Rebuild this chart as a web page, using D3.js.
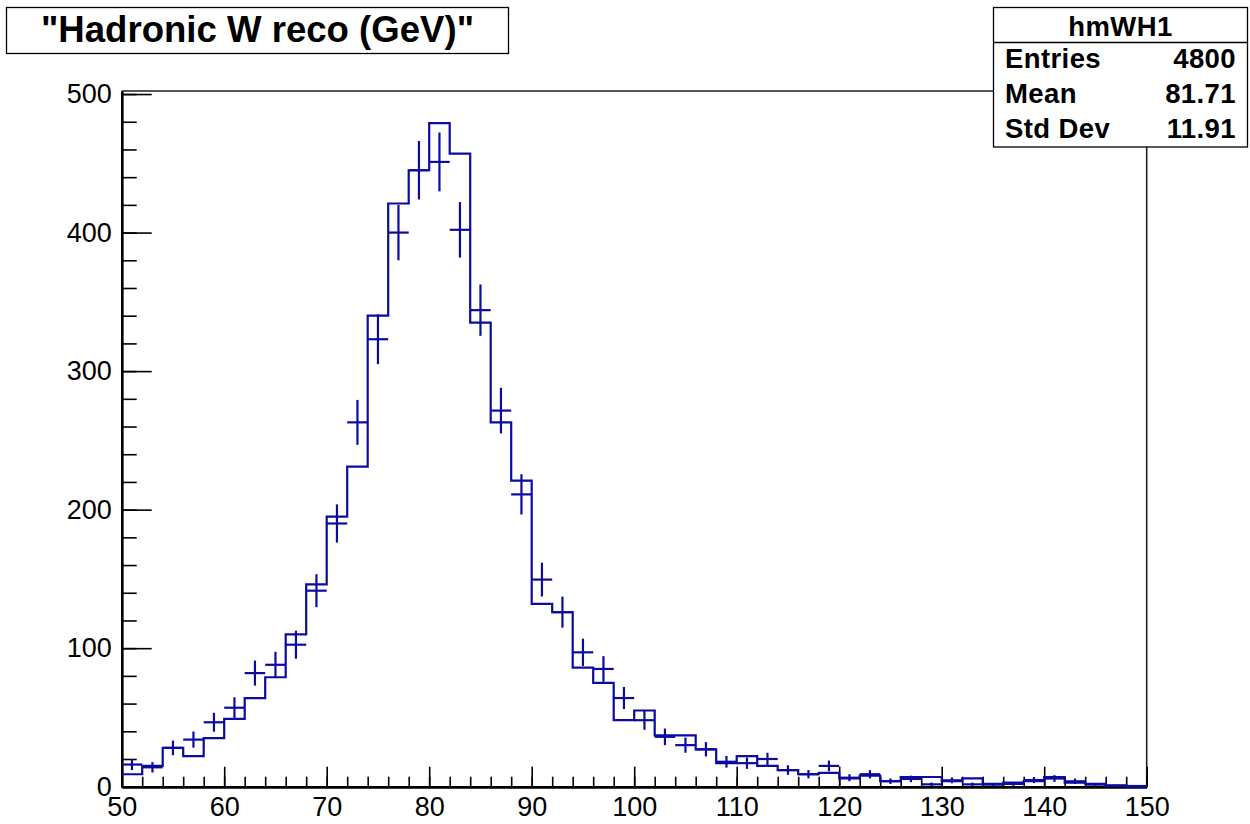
<!DOCTYPE html>
<html lang="en">
<head>
    <meta charset="UTF-8">
    <title>hmWH1</title>
    <script src="https://cdn.jsdelivr.net/npm/d3@7"></script>
    <style>
        body{
            margin: 0;
            background: white;
        }
        svg text{
            font-family: "Liberation Sans", Arial, sans-serif;
        }
    </style>
</head>
<body>
</body>
<script type="text/javascript">

    // low edge of every 2 GeV bin
    let binLow = [50, 52, 54, 56, 58, 60, 62, 64, 66, 68,
                  70, 72, 74, 76, 78, 80, 82, 84, 86, 88,
                  90, 92, 94, 96, 98, 100, 102, 104, 106, 108,
                  110, 112, 114, 116, 118, 120, 122, 124, 126, 128,
                  130, 132, 134, 136, 138, 140, 142, 144, 146, 148];
    let binWidth = 2;

    // histogram (step line)
    let histCounts = [9, 15, 28, 22, 35, 49, 64, 79, 110, 146,
                      195, 231, 340, 421, 445, 479, 457, 335, 263, 221,
                      132, 126, 86, 75, 48, 55, 37, 37, 27, 17,
                      22, 15, 12, 9, 10, 6, 8, 4, 7, 7,
                      4, 6, 2, 3, 4, 7, 3, 2, 1, 0];

    // points with error bars
    let pointCounts = [16, 14, 28, 34, 46.5, 57, 82, 88, 102.5, 141.5,
                       190, 263, 323, 400, 445, 451, 402, 344, 271.5, 211,
                       149.5, 126, 97, 85, 64, 48, 36, 30, 27, 18,
                       17, 20, 12, 9, 15, 6.5, 9, 4, 5.6, 1.7,
                       4.6, 1.7, 1.5, 2, 4.8, 5.9, 3.9, 1.5, 0.6, 0.5];

    let titleText = "\"Hadronic W reco (GeV)\"";
    let statsName = "hmWH1";
    let statsLabels = ["Entries", "Mean", "Std Dev"];
    let statsValues = ["4800", "81.71", "11.91"];

    let xTicks = [50, 60, 70, 80, 90, 100, 110, 120, 130, 140, 150];
    let yTicks = [0, 100, 200, 300, 400, 500];

    let width = 1250;
    let height = 824;
    let padL = 121.7, padR = 1146.7, padT = 91, padB = 786.7;
    let blue = "#0b0ba0";

    let svg = d3.select("body")
        .append("svg")
        .attr("width", width)
        .attr("height", height);

    let x = d3.scaleLinear()
        .domain([50, 150])
        .range([padL, padR]);

    let y = d3.scaleLinear()
        .domain([0, 502.2])
        .range([padB, padT]);

    // frame (top + right)
    svg.append("path")
        .attr("d", `M${padL},${padT}H${padR}V${padB}`)
        .attr("fill", "none")
        .attr("stroke", "#222")
        .attr("stroke-width", 1.6);

    // minor ticks
    let xMinor = d3.axisBottom(x)
        .tickValues(d3.range(50, 151, 2))
        .tickSize(-10)
        .tickSizeOuter(0)
        .tickFormat("");
    svg.append("g")
        .attr("transform", `translate(0,${padB})`)
        .call(xMinor);

    let yMinor = d3.axisLeft(y)
        .tickValues(d3.range(0, 501, 20))
        .tickSize(-15)
        .tickSizeOuter(0)
        .tickFormat("");
    svg.append("g")
        .attr("transform", `translate(${padL},0)`)
        .call(yMinor);

    // major ticks and labels
    let xAxis = d3.axisBottom(x)
        .tickValues(xTicks)
        .tickSize(-20)
        .tickSizeOuter(0)
        .tickPadding(10);
    let xAxisGroup = svg.append("g")
        .attr("class", "xAxisGroup")
        .attr("transform", `translate(0,${padB})`)
        .call(xAxis);

    let yAxis = d3.axisLeft(y)
        .tickValues(yTicks)
        .tickSize(-30)
        .tickSizeOuter(0)
        .tickPadding(10);
    let yAxisGroup = svg.append("g")
        .attr("class", "yAxisGroup")
        .attr("transform", `translate(${padL},0)`)
        .call(yAxis);

    svg.selectAll(".tick line").attr("stroke", "#000").attr("stroke-width", 1.6);
    svg.selectAll(".domain").attr("stroke", "#000").attr("stroke-width", 2.4);
    svg.selectAll(".tick text")
        .attr("font-size", 27)
        .attr("font-family", "Liberation Sans, Arial, sans-serif")
        .attr("fill", "#000");

    // histogram step line
    let stepData = binLow.map((b, i) => ({ x: b, v: histCounts[i] }));
    stepData.push({ x: 150, v: histCounts[histCounts.length - 1] });
    let line = d3.line()
        .x(d => x(d.x))
        .y(d => y(d.v))
        .curve(d3.curveStepAfter);
    svg.append("path")
        .datum(stepData)
        .attr("fill", "none")
        .attr("stroke", blue)
        .attr("stroke-width", 2.2)
        .attr("d", line);

    // points with poisson error bars
    let pts = svg.append("g")
        .attr("stroke", blue)
        .attr("stroke-width", 2.2);
    binLow.forEach((b, i) => {
        let v = pointCounts[i];
        let e = Math.sqrt(v);
        pts.append("line")
            .attr("x1", x(b)).attr("x2", x(b + binWidth))
            .attr("y1", y(v)).attr("y2", y(v));
        pts.append("line")
            .attr("x1", x(b + binWidth / 2)).attr("x2", x(b + binWidth / 2))
            .attr("y1", y(Math.max(0, v - e))).attr("y2", y(v + e));
    });

    // title box
    svg.append("rect")
        .attr("x", 6.5).attr("y", 7.5)
        .attr("width", 502).attr("height", 46)
        .attr("fill", "white")
        .attr("stroke", "#000")
        .attr("stroke-width", 1.3);
    svg.append("text")
        .attr("x", 257.5).attr("y", 41.5)
        .attr("text-anchor", "middle")
        .attr("font-size", 36.6)
        .attr("font-weight", "bold")
        .text(titleText);

    // stats box
    let sx = 993.5, sw = 254;
    svg.append("rect")
        .attr("x", sx).attr("y", 7.5)
        .attr("width", sw).attr("height", 139.5)
        .attr("fill", "white")
        .attr("stroke", "#000")
        .attr("stroke-width", 1.3);
    svg.append("line")
        .attr("x1", sx).attr("x2", sx + sw)
        .attr("y1", 42.5).attr("y2", 42.5)
        .attr("stroke", "#000")
        .attr("stroke-width", 1.3);
    svg.append("text")
        .attr("x", sx + sw / 2).attr("y", 36)
        .attr("text-anchor", "middle")
        .attr("font-size", 27.5)
        .attr("letter-spacing", 0.4)
        .attr("font-weight", "bold")
        .text(statsName);
    statsLabels.forEach((lab, i) => {
        let by = 68 + i * 35;
        svg.append("text")
            .attr("x", 1005).attr("y", by)
            .attr("font-size", 27.5)
            .attr("letter-spacing", 0.4)
            .attr("font-weight", "bold")
            .text(lab);
        svg.append("text")
            .attr("x", 1236).attr("y", by)
            .attr("text-anchor", "end")
            .attr("font-size", 27.5)
            .attr("letter-spacing", 0.4)
            .attr("font-weight", "bold")
            .text(statsValues[i]);
    });

</script>
</html>
